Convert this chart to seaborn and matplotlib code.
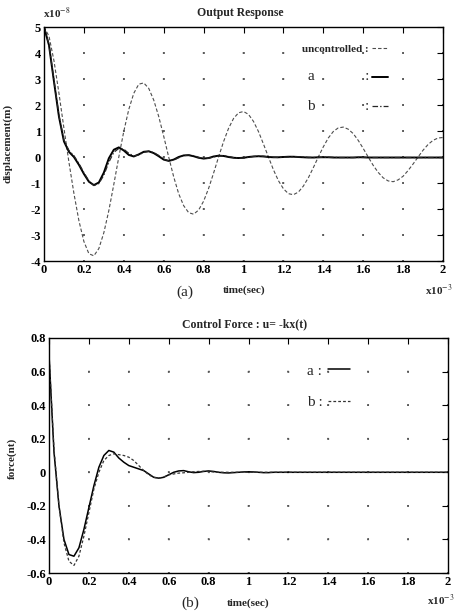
import matplotlib
matplotlib.use('Agg')
import matplotlib.pyplot as plt
import seaborn as sns
import pandas as pd
from matplotlib.lines import Line2D

# ---------------- data ----------------
# time axis in units of 1e-3 s
time_ms = [0.0, 0.025, 0.05, 0.075, 0.1, 0.125, 0.15, 0.175, 0.2, 0.225,
           0.25, 0.275, 0.3, 0.325, 0.35, 0.375, 0.4, 0.425, 0.45, 0.475,
           0.5, 0.525, 0.55, 0.575, 0.6, 0.625, 0.65, 0.675, 0.7, 0.725,
           0.75, 0.775, 0.8, 0.825, 0.85, 0.875, 0.9, 0.925, 0.95, 0.975,
           1.0, 1.025, 1.05, 1.075, 1.1, 1.125, 1.15, 1.175, 1.2, 1.225,
           1.25, 1.275, 1.3, 1.325, 1.35, 1.375, 1.4, 1.425, 1.45, 1.475,
           1.5, 1.525, 1.55, 1.575, 1.6, 1.625, 1.65, 1.675, 1.7, 1.725,
           1.75, 1.775, 1.8, 1.825, 1.85, 1.875, 1.9, 1.925, 1.95, 1.975, 2.0]

# displacement in units of 1e-8 m
disp_uncontrolled = [5.00, 4.65, 3.70, 2.45, 1.10, -0.20, -1.40, -2.45, -3.25, -3.72,
                     -3.80, -3.52, -2.91, -2.06, -1.05, 0.00, 0.99, 1.83, 2.45, 2.80,
                     2.85, 2.64, 2.19, 1.56, 0.80, 0.00, -0.76, -1.41, -1.87, -2.14,
                     -2.20, -2.04, -1.70, -1.21, -0.62, 0.00, 0.59, 1.10, 1.48, 1.70,
                     1.75, 1.64, 1.37, 0.98, 0.50, 0.00, -0.49, -0.91, -1.22, -1.41,
                     -1.45, -1.35, -1.12, -0.80, -0.41, 0.00, 0.39, 0.73, 0.98, 1.12,
                     1.15, 1.07, 0.90, 0.64, 0.33, 0.00, -0.32, -0.59, -0.80, -0.92,
                     -0.95, -0.88, -0.74, -0.52, -0.27, 0.00, 0.26, 0.48, 0.64, 0.73, 0.75]

disp_a = [5.00, 4.30, 2.90, 1.55, 0.60, 0.20, 0.00, -0.30, -0.65, -0.95,
          -1.08, -0.98, -0.60, -0.05, 0.28, 0.37, 0.25, 0.08, 0.02, 0.10,
          0.20, 0.22, 0.15, 0.03, -0.10, -0.15, -0.10, 0.00, 0.06, 0.07,
          0.03, -0.03, -0.06, -0.04, 0.02, 0.05, 0.04, 0.00, -0.03, -0.04,
          -0.03, 0.00, 0.02, 0.03, 0.02, 0.00, -0.01, -0.01, 0.00, 0.01,
          0.01, 0.00, -0.01, -0.02, -0.02, -0.01, -0.01, -0.01, -0.02, -0.02,
          -0.02, -0.02, -0.02, -0.01, -0.01, -0.02, -0.02, -0.02, -0.02, -0.02,
          -0.02, -0.02, -0.02, -0.02, -0.02, -0.02, -0.02, -0.02, -0.02, -0.02, -0.02]

disp_b = [5.00, 4.32, 2.95, 1.60, 0.65, 0.25, 0.05, -0.25, -0.60, -0.92,
          -1.10, -1.02, -0.70, -0.20, 0.18, 0.33, 0.30, 0.14, 0.04, 0.08,
          0.18, 0.22, 0.17, 0.06, -0.08, -0.15, -0.12, -0.03, 0.05, 0.08,
          0.05, -0.01, -0.06, -0.05, 0.00, 0.04, 0.05, 0.02, -0.02, -0.04,
          -0.04, -0.01, 0.02, 0.03, 0.03, 0.01, -0.01, -0.02, -0.01, 0.00,
          0.01, 0.01, 0.00, -0.01, -0.02, -0.02, -0.01, -0.01, -0.01, -0.02,
          -0.02, -0.02, -0.02, -0.02, -0.02, -0.02, -0.02, -0.02, -0.02, -0.02,
          -0.02, -0.02, -0.02, -0.02, -0.02, -0.02, -0.02, -0.02, -0.02, -0.02, -0.02]

# control force (nt)
force_a = [0.70, 0.12, -0.20, -0.40, -0.49, -0.50, -0.45, -0.34, -0.21, -0.08,
           0.03, 0.10, 0.13, 0.12, 0.085, 0.06, 0.04, 0.03, 0.02, 0.01,
           -0.01, -0.03, -0.035, -0.03, -0.015, 0.00, 0.008, 0.01, 0.003, -0.002,
           0.000, 0.005, 0.008, 0.005, 0.000, -0.003, -0.004, -0.002, 0.000, 0.002,
           0.003, 0.002, 0.000, -0.002, -0.002, 0.000, 0.000, 0.000, 0.000, 0.000,
           0.000, 0.000, 0.000, 0.000, 0.000, 0.000, 0.000, 0.000, 0.000, 0.000,
           0.000, 0.000, 0.000, 0.000, 0.000, 0.000, 0.000, 0.000, 0.000, 0.000,
           0.000, 0.000, 0.000, 0.000, 0.000, 0.000, 0.000, 0.000, 0.000, 0.000, 0.000]

force_b = [0.70, 0.14, -0.20, -0.42, -0.53, -0.555, -0.50, -0.38, -0.24, -0.10,
           0.00, 0.07, 0.10, 0.11, 0.105, 0.10, 0.09, 0.07, 0.04, 0.01,
           -0.015, -0.03, -0.035, -0.028, -0.015, -0.01, -0.005, -0.003, 0.000, 0.003,
           0.005, 0.006, 0.005, 0.002, 0.000, 0.000, 0.000, 0.000, 0.000, 0.000,
           0.000, 0.000, 0.000, 0.000, 0.000, 0.000, 0.000, 0.000, 0.000, 0.000,
           0.000, 0.000, 0.000, 0.000, 0.000, 0.000, 0.000, 0.000, 0.000, 0.000,
           0.000, 0.000, 0.000, 0.000, 0.000, 0.000, 0.000, 0.000, 0.000, 0.000,
           0.000, 0.000, 0.000, 0.000, 0.000, 0.000, 0.000, 0.000, 0.000, 0.000, 0.000]

x_ticks = [0, 0.2, 0.4, 0.6, 0.8, 1.0, 1.2, 1.4, 1.6, 1.8, 2.0]
x_tick_labels = ['0', '0.2', '0.4', '0.6', '0.8', '1', '1.2', '1.4', '1.6', '1.8', '2']
disp_ticks = [5, 4, 3, 2, 1, 0, -1, -2, -3, -4]
disp_tick_labels = ['5', '4', '3', '2', '1', '0', '-1', '-2', '-3', '-4']
force_ticks = [0.8, 0.6, 0.4, 0.2, 0.0, -0.2, -0.4, -0.6]
force_tick_labels = ['0.8', '0.6', '0.4', '0.2', '0', '-0.2', '-0.4', '-0.6']

# ---------------- style ----------------
sns.set_style('white')
plt.rcParams['font.family'] = ['Liberation Serif', 'DejaVu Serif']
plt.rcParams['mathtext.fontset'] = 'stix'
plt.rcParams['lines.scale_dashes'] = False

W, H = 459, 612
fig = plt.figure(figsize=(W / 100, H / 100), dpi=100)
fig.patch.set_facecolor('white')

ax1 = fig.add_axes([44 / W, 1 - 261 / H, 399 / W, 234 / H])
ax2 = fig.add_axes([49 / W, 1 - 573 / H, 399 / W, 235 / H])


def dot_pattern(period_px):
    p = period_px * 0.72
    return (0.6, (1.2, p - 1.2))


def style_axes(ax, yticks, ylabels, ylim, h_px):
    ax.set_xlim(0, 2)
    ax.set_ylim(*ylim)
    ax.set_xticks(x_ticks)
    ax.set_xticklabels(x_tick_labels, fontweight='bold', fontsize=9)
    ax.set_yticks(yticks)
    ax.set_yticklabels(ylabels, fontweight='bold', fontsize=9)
    ax.tick_params(direction='in', top=True, right=True, length=4, width=0.8,
                   pad=2, colors='black')
    for s in ax.spines.values():
        s.set_visible(True)
        s.set_linewidth(1.0)
        s.set_color('black')
    ny = len(yticks) - 1
    ax.xaxis.grid(True, color='0.3', linestyle=dot_pattern(h_px / ny), linewidth=1.1)
    ax.yaxis.grid(True, color='0.3', linestyle=dot_pattern(399 / 10), linewidth=1.1)
    ax.set_xlabel('')
    ax.set_ylabel('')


# ---- top panel ----
unc_style = dict(color='0.3', linewidth=0.8, linestyle=(0, (2.5, 1.5)))
a_style = dict(color='black', linewidth=1.4, linestyle='-')
b_style = dict(color='0.15', linewidth=0.9, linestyle=(0, (4, 1.5, 1, 1.5)))

sns.lineplot(x=time_ms, y=disp_uncontrolled, ax=ax1, legend=False, **unc_style)
sns.lineplot(x=time_ms, y=disp_a, ax=ax1, legend=False, **a_style)
sns.lineplot(x=time_ms, y=disp_b, ax=ax1, legend=False, **b_style)
style_axes(ax1, disp_ticks, disp_tick_labels, (-4, 5), 234)

handles1 = [Line2D([], [], **unc_style), Line2D([], [], **a_style), Line2D([], [], **b_style)]
labels1 = ['uncontrolled :', 'a' + ' ' * 13 + ':', 'b' + ' ' * 13 + ':']
leg1 = ax1.legend(handles1, labels1, loc='upper right', bbox_to_anchor=(0.862, 0.925),
                  frameon=False, markerfirst=False, borderpad=0, borderaxespad=0,
                  handlelength=1.4, handletextpad=0.3, labelspacing=1.45, fontsize=8)
t = leg1.get_texts()
t[0].set_fontweight('bold'); t[0].set_fontsize(8)
t[1].set_fontsize(11)
t[2].set_fontsize(11)

ax1.text(-0.003, 1.056, r'x10$^{-8}$', transform=ax1.transAxes, ha='left', va='center',
         fontsize=8, fontweight='bold')
ax1.text(0.491, 1.06, 'Output Response', transform=ax1.transAxes, ha='center',
         va='center', fontsize=8.5, fontweight='bold')

# ---- bottom panel ----
fa_style = dict(color='black', linewidth=1.1, linestyle='-')
fb_style = dict(color='0.2', linewidth=0.9, linestyle=(0, (2, 1.5)))
sns.lineplot(x=time_ms, y=force_a, ax=ax2, legend=False, **fa_style)
sns.lineplot(x=time_ms, y=force_b, ax=ax2, legend=False, **fb_style)
style_axes(ax2, force_ticks, force_tick_labels, (-0.6, 0.8), 235)

handles2 = [Line2D([], [], **fa_style), Line2D([], [], **fb_style)]
labels2 = ['a :', 'b :']
leg2 = ax2.legend(handles2, labels2, loc='upper right', bbox_to_anchor=(0.754, 0.89),
                  frameon=False, markerfirst=False, borderpad=0, borderaxespad=0,
                  handlelength=1.4, handletextpad=0.4, labelspacing=1.16, fontsize=11)

ax2.text(0.491, 1.06, 'Control Force : u= -kx(t)', transform=ax2.transAxes, ha='center',
         va='center', fontsize=8.5, fontweight='bold')


def ftxt(px, py, s, **kw):
    fig.text(px / W, 1 - py / H, s, ha='center', va='center', **kw)


ftxt(8, 143, 'displacement(m)', rotation=90, fontsize=8, fontweight='bold')
ftxt(185, 292, '(a)', fontsize=11)
ftxt(244, 290, 'time(sec)', fontsize=8, fontweight='bold')
ftxt(439, 290, r'x10$^{-3}$', fontsize=8, fontweight='bold')

ftxt(12, 458, 'force(nt)', rotation=90, fontsize=8, fontweight='bold')
ftxt(190, 603, '(b)', fontsize=11)
ftxt(248, 603, 'time(sec)', fontsize=8, fontweight='bold')
ftxt(441, 600, r'x10$^{-3}$', fontsize=8, fontweight='bold')

fig.savefig('out.png', dpi=100, facecolor='white')
